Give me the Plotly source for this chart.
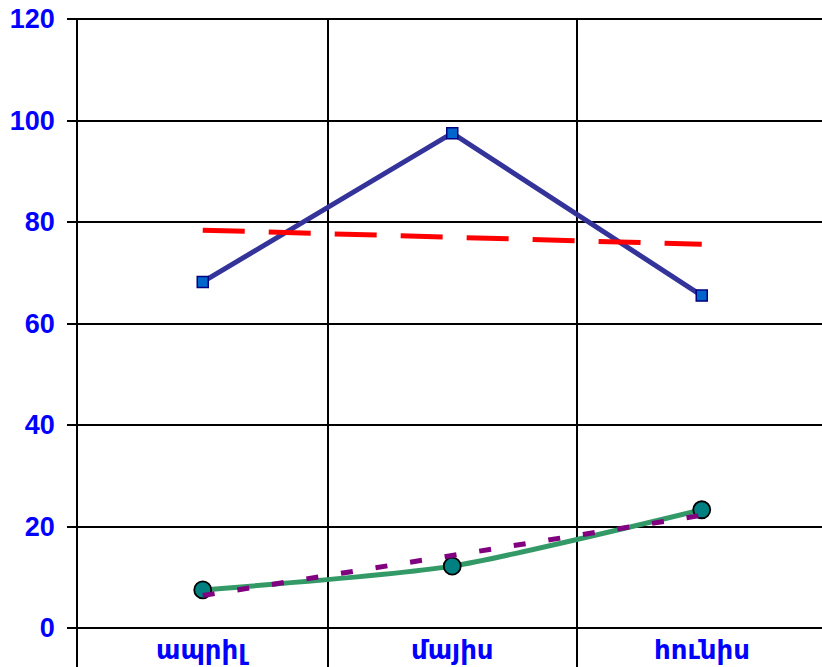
import plotly.graph_objects as go

categories = ["ապրիլ", "մայիս", "հունիս"]
series_blue = [68.2, 97.5, 65.5]
trend_red = [78.4, 77.0, 75.6]
series_green = [7.5, 12.2, 23.3]
trend_purple = [6.4, 14.3, 22.2]
y_ticks = [0, 20, 40, 60, 80, 100, 120]

xs = list(range(len(categories)))

fig = go.Figure()
fig.add_trace(go.Scatter(
    x=xs, y=series_blue, mode="lines+markers",
    line=dict(color="#333399", width=5),
    marker=dict(symbol="square", size=11, color="#0066CC",
                line=dict(color="#000080", width=1.5)),
))
fig.add_trace(go.Scatter(
    x=xs, y=series_green, mode="lines+markers",
    line=dict(color="#339966", width=5, shape="spline", smoothing=0.6),
    marker=dict(symbol="circle", size=17, color="#008080",
                line=dict(color="#000000", width=1.8)),
))
fig.add_trace(go.Scatter(
    x=xs, y=trend_red, mode="lines",
    line=dict(color="#FF0000", width=5, dash="42px,24px"),
))
fig.add_trace(go.Scatter(
    x=xs, y=trend_purple, mode="lines",
    line=dict(color="#800080", width=5, dash="12px,23px"),
))

for i, c in enumerate(categories):
    fig.add_annotation(
        x=i, y=-4.3, xref="x", yref="y", text=c, showarrow=False,
        font=dict(family="DejaVu Sans", size=26, color="#0000FF", weight="bold"),
        xanchor="center", yanchor="middle",
    )

fig.update_layout(
    width=822, height=667,
    margin=dict(l=78, r=0, t=18, b=0, autoexpand=False),
    paper_bgcolor="white", plot_bgcolor="white",
    showlegend=False,
)
fig.update_xaxes(
    range=[-0.5, 2.482], automargin=False,
    tickmode="array", tickvals=[-0.5, 0.5, 1.5, 2.5], ticktext=["", "", "", ""],
    showgrid=True, gridcolor="black", gridwidth=1.5,
    zeroline=False, showline=False, ticks="", showticklabels=False,
)
fig.update_yaxes(
    range=[-7.68, 120.2], automargin=False,
    tickmode="array", tickvals=y_ticks, ticktext=[str(v) for v in y_ticks],
    showgrid=True, gridcolor="black", gridwidth=1.5,
    zeroline=False,
    showline=True, linecolor="black", linewidth=1.5,
    ticks="outside", ticklen=9, tickcolor="black", tickwidth=1.5,
    ticklabelstandoff=7, ticklabeloverflow="allow",
    tickfont=dict(family="Liberation Sans", size=27, color="#0000FF", weight="bold"),
)

fig.write_html(
    "out.html",
    config={"displayModeBar": False},
    post_script="document.body.style.margin='0';document.body.style.overflow='hidden';",
)
